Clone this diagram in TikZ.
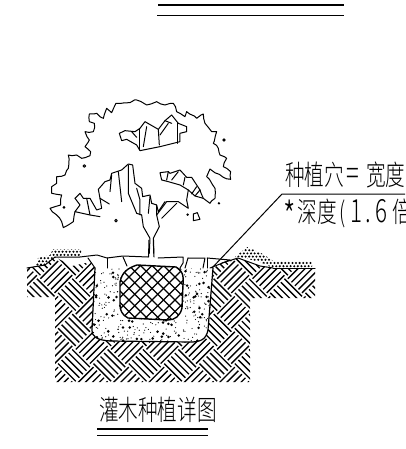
\documentclass[tikz,border=0pt]{standalone}
\usepackage{fontspec}
\usetikzlibrary{decorations.pathmorphing}
\newfontfamily\cjk{Noto Sans CJK SC Light}
\newcommand\gl[2]{\makebox[#1pt][c]{#2}}
\tikzset{
  cad/.style={line width=1pt,line join=round,line cap=round},
  wig/.style={cad,decorate,decoration={random steps,segment length=4.5pt,amplitude=0.9pt}},
  hatchline/.style={line width=1.35pt},
  label/.style={inner sep=0pt,outer sep=0pt,anchor=base west,font=\cjk\fontsize{28}{28}\selectfont,xscale=0.7,text=black},
}
\begin{document}
\begin{tikzpicture}[x=1pt,y=-1pt]
\useasboundingbox (0,0) rectangle (405,449);
\clip (0,0) rectangle (405,449);
\fill[white] (0,0) rectangle (405,449);
\pgfmathsetseed{77}
% top rules
\draw[line width=2.4pt] (158,5) -- (344,5);
\draw[line width=1pt] (157,15.5) -- (344,15.5);
% soil hatch
\begin{scope}
\clip (27,268) -- (45,265) -- (55,257) -- (72,266) -- (90,262) -- (95,268) -- (213,268) -- (222,263) -- (238,258) -- (260,266) -- (273,268) -- (315,268) -- (315,298) -- (250,298) -- (250,382) -- (55,382) -- (55,297) -- (27,297) -- cycle;
\begin{scope}[shift={(74,330)},rotate=45]
\foreach \i in {-4,...,12}{\foreach \j in {-12,...,6}{
  \ifodd\numexpr\i+\j\relax
    \foreach \k in {-10,-5,0,5,10}{\draw[hatchline] ({25*\i-12.5},{25*\j+\k}) -- ({25*\i+12.5},{25*\j+\k});}
  \else
    \foreach \k in {-10,-5,0,5,10}{\draw[hatchline] ({25*\i+\k},{25*\j-12.5}) -- ({25*\i+\k},{25*\j+12.5});}
  \fi
}}
\end{scope}
\end{scope}
% pit with stipple
\path[fill=white] (95,268) -- (213,268) -- (208,330) .. controls (206,340) and (200,342) .. (190,342) -- (110,341) .. controls (97,340) and (92,337) .. (92,330) -- cycle;
\begin{scope}
\clip (95,268) -- (213,268) -- (208,330) .. controls (206,340) and (200,342) .. (190,342) -- (110,341) .. controls (97,340) and (92,337) .. (92,330) -- cycle;
\pgfmathsetseed{4217}
\foreach \n in {1,...,320}{
  \pgfmathsetmacro{\px}{152+60*rand}
  \pgfmathsetmacro{\py}{305+38*rand}
  \fill[black] (\px,\py) circle (0.6);
}
\foreach \n in {1,...,85}{
  \pgfmathsetmacro{\px}{152+60*rand}
  \pgfmathsetmacro{\py}{305+38*rand}
  \fill[black] (\px,\py) circle (1.4);
}
\end{scope}
\draw[cad,line width=1.2pt] (95,268) -- (92,330) .. controls (92,337) and (97,340) .. (110,341) -- (190,342) .. controls (200,342) and (206,340) .. (208,330) -- (213,268);
% root ball
\begin{scope}
\path[fill=white] (120,282) .. controls (122,272) and (128,268) .. (137,265) -- (176,267) .. controls (182,270) and (184,275) .. (183,285) -- (182,308) .. controls (180,316) and (175,320) .. (168,320) -- (128,318) .. controls (122,315) and (120,310) .. (120,305) -- cycle;
\clip (120,282) .. controls (122,272) and (128,268) .. (137,265) -- (176,267) .. controls (182,270) and (184,275) .. (183,285) -- (182,308) .. controls (180,316) and (175,320) .. (168,320) -- (128,318) .. controls (122,315) and (120,310) .. (120,305) -- cycle;
\foreach \k in {-18,...,18}{
  \draw[line width=1.25pt] ({152+11.5*\k-80},220) -- ({152+11.5*\k+80},380);
  \draw[line width=1.25pt] ({152+11.5*\k+80},220) -- ({152+11.5*\k-80},380);
}
\end{scope}
\draw[cad,line width=1.4pt] (120,282) .. controls (122,272) and (128,268) .. (137,265) -- (176,267) .. controls (182,270) and (184,275) .. (183,285) -- (182,308) .. controls (180,316) and (175,320) .. (168,320) -- (128,318) .. controls (122,315) and (120,310) .. (120,305) -- cycle;
% mounds
\begin{scope}
\clip (35,267) -- (38,258) -- (50,255) -- (53,249) -- (81,249) -- (81,256) -- (55,257) -- (45,265) -- cycle;
\foreach \a in {0,...,16}{\foreach \b in {0,...,6}{
  \fill ({32+3.6*\a+1.8*mod(\b,2)},{248.5+3.2*\b}) circle (1.15);
}}
\end{scope}
\begin{scope}
\clip (235,257) -- (247,247) -- (263,254) -- (273,261) -- (312,261) -- (312,268) -- (273,268) -- (260,262) -- (240,257) -- cycle;
\foreach \a in {0,...,23}{\foreach \b in {0,...,7}{
  \fill ({233+3.6*\a+1.8*mod(\b,2)},{247+3.2*\b}) circle (1.15);
}}
\end{scope}
% ground line and clods
\draw[cad] (27,268) -- (45,265) -- (55,257);
\draw[cad] (273,268) -- (315,268);
\draw[cad] (55,257) -- (80,257) -- (97,255) -- (107,258) -- (123,256) -- (148,257);
\draw[cad] (88,258) -- (95,268);
\draw[cad] (107,258) -- (107,268);
\draw[cad] (123,257) -- (127,266);
\draw[cad] (158,258) -- (183,257) -- (183,263) -- (180,268);
\draw[cad] (188,258) -- (205,258) -- (203,268);
\draw[cad] (188,258) -- (185,268);
\draw[cad] (207,258) -- (230,260) -- (210,268);
\draw[cad] (207,258) -- (207,268);
\draw[cad] (222,263) -- (238,258) -- (260,266) -- (273,268);
% stem
\draw[cad] (149,240) -- (148.5,257);
\draw[cad] (153.5,240) -- (154,257);
% tree
\begin{scope}[shift={(40,90)},scale=0.3333]
\draw[wig] (105,365) -- (100,395) -- (85,405) -- (70,413) -- (65,395) -- (50,375) -- (30,355) -- (45,350) -- (62,345) -- (65,315) -- (35,310) -- (35,290) -- (50,280) -- (50,260) -- (75,255) -- (85,235) -- (85,195) -- (110,195) -- (125,205) -- (150,197) -- (152,185) -- (135,170) -- (148,150) -- (135,125) -- (160,125) -- (163,100) -- (148,95) -- (148,72) -- (170,70) -- (190,85) -- (200,55) -- (215,68) -- (228,40) -- (270,38) -- (290,30) -- (320,45) -- (350,35) -- (375,45) -- (400,40) -- (410,65) -- (435,80) -- (440,65) -- (470,85) -- (490,72) -- (495,100) -- (515,125) -- (530,125) -- (520,160) -- (535,175) -- (540,195) -- (560,205) -- (550,230) -- (572,245) -- (572,268) -- (550,262) -- (510,237) -- (500,260) -- (525,295) -- (525,325) -- (510,340) -- (490,325) -- (480,300);
\draw[cad] (480,300) -- (455,262) -- (440,262) -- (420,240) -- (390,250) -- (385,245) -- (360,248) -- (365,270) -- (385,275) -- (420,285) -- (445,300) -- (440,330) -- (445,355) -- (430,345) -- (415,335) -- (380,335) -- (350,375);
\draw[cad] (465,318) -- (480,300);
\draw[cad] (445,300) -- (465,318) -- (490,325);
\draw[cad] (385,245) -- (380,270);
\draw[cad] (415,245) -- (395,270);
\draw[cad] (435,262) -- (430,285);
\draw[cad] (470,290) -- (455,312);
% upper lump
\draw[cad] (238,130) -- (255,122) -- (285,125) -- (300,115) -- (315,95) -- (355,118) -- (375,92) -- (395,75) -- (415,100) -- (440,110) -- (440,125) -- (420,130) -- (420,155) -- (360,170) -- (300,182) -- (290,165) -- (260,148) -- (245,152) -- cycle;
\draw[cad] (300,115) -- (300,180);
\draw[cad] (320,110) -- (310,170);
\draw[cad] (355,118) -- (358,165);
\draw[cad] (385,100) -- (360,135);
\draw[cad] (413,100) -- (413,160);
\draw[cad] (375,92) -- (395,100);
\draw[cad] (275,125) -- (290,142);
% lower crown
\draw[cad] (105,325) -- (120,310) -- (130,325) -- (150,325) -- (170,360) -- (185,355) -- (180,325) -- (175,298) -- (195,275) -- (210,270) -- (215,250) -- (245,240) -- (265,222) -- (278,225) -- (285,280) -- (305,295) -- (308,320) -- (330,315) -- (335,340) -- (350,345) -- (350,375);
\draw[cad] (105,325) -- (120,345) -- (105,365) -- (150,375) -- (180,380);
\draw[cad] (180,325) -- (208,342);
\draw[cad] (140,325) -- (150,375);
\draw[cad] (265,225) -- (265,310) -- (290,370) -- (305,375);
\draw[cad] (235,245) -- (245,335);
\draw[cad] (215,255) -- (210,305);
\draw[cad] (290,295) -- (300,330) -- (300,375);
\draw[cad] (330,320) -- (325,370);
\draw[cad] (350,345) -- (355,365) -- (375,335);
\draw[cad] (410,340) -- (365,385);
\draw[cad] (305,375) -- (310,410) -- (330,445) -- (328,490);
\draw[cad] (350,375) -- (358,410) -- (340,445) -- (341,490);
% specks
\draw[cad] (133,228) circle (4);
\fill (72,352) circle (4.5);
\draw[cad] (228,392) circle (4);
\draw[cad] (552,150) circle (3.5);
\fill (537,340) circle (4);
\fill (443,374) circle (4);
\draw[cad] (460,372) -- (472,368) -- (480,388) -- (460,392) -- cycle;
\end{scope}
% label and leader
\node[label] (widthlabel) at (285,185) {种植穴\gl{26}{\fontsize{34}{34}\selectfont =}\hspace{6pt}宽度};
\node[label] (depthlabel) at (283,222) {\gl{20}{\raisebox{-9pt}{\fontsize{40}{40}\selectfont *}}\hspace{1pt}深度\gl{16}{(}\gl{23}{\fontsize{32}{32}\selectfont 1}\gl{11}{\fontsize{32}{32}\selectfont .}\gl{26}{\fontsize{32}{32}\selectfont 6}\hspace{4pt}倍};
\coordinate (leaderEnd) at (212,268);
\coordinate (leaderKnee) at (282,194);
\coordinate (leaderRight) at (405,194);
\draw[cad,line width=1pt] (leaderEnd) -- (leaderKnee) -- (leaderRight);
% title
\node[label] (title) at (99,420) {灌木种植详图};
\draw[line width=2pt] (97,429) -- (208,429);
\draw[line width=1pt] (97,435) -- (208,435);
\end{tikzpicture}
\end{document}
